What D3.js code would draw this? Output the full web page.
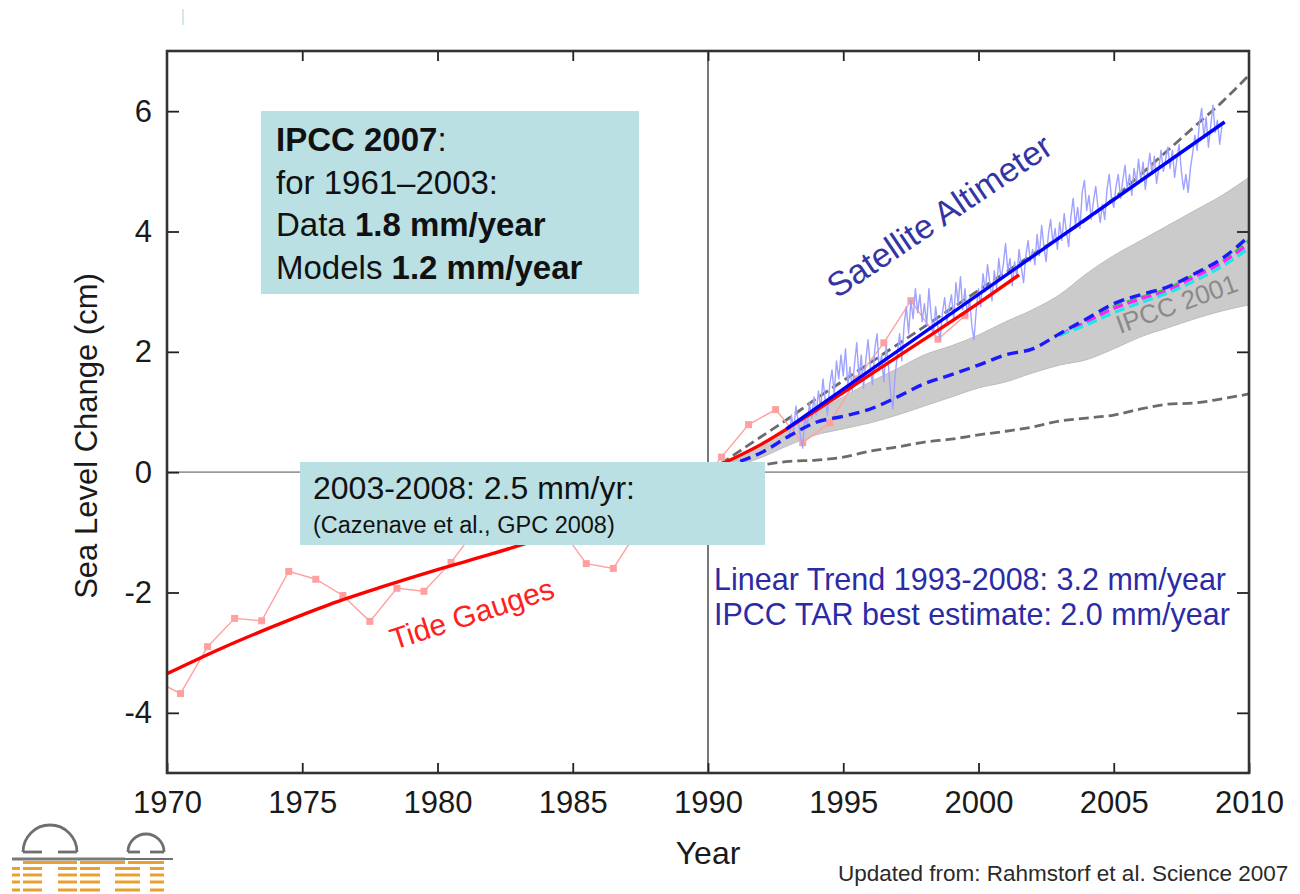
<!DOCTYPE html>
<html><head><meta charset="utf-8">
<script src="https://cdn.jsdelivr.net/npm/d3@7"></script>
<style>
body{margin:0;background:#fff}
svg{display:block}
text{font-family:"Liberation Sans",Arial,Helvetica,sans-serif}
</style>
</head><body>
<svg id="c" width="1300" height="894"></svg>
<script>
// ---------------- data ----------------
const xTickValues = [1970, 1975, 1980, 1985, 1990, 1995, 2000, 2005, 2010];
const yTickValues = [-4, -2, 0, 2, 4, 6];

// annual tide gauge values (cm)
const tideYears = [1969.5,1970.5,1971.5,1972.5,1973.5,1974.5,1975.5,1976.5,1977.5,1978.5,1979.5,
  1980.5,1981.5,1982.5,1983.5,1984.5,1985.5,1986.5,1987.5,1988.5,1989.5,
  1990.5,1991.5,1992.5,1993.5,1994.5,1995.5,1996.5,1997.5,1998.5,1999.5];
const tideValues = [-3.45,-3.68,-2.9,-2.43,-2.47,-1.65,-1.78,-2.05,-2.48,-1.93,-1.98,
  -1.5,-0.9,-1.0,-0.8,-0.9,-1.52,-1.6,-0.9,-0.4,-0.3,
  0.25,0.79,1.04,0.49,0.82,1.55,2.15,2.85,2.21,2.6];

// smooth tide gauge trend (cm)
const tideTrendYears = [1970,1972,1974,1976,1978,1980,1982,1984,1986,1988,1990,1992,1994,1996,1998,2000,2001.5];
const tideTrendValues = [-3.35,-2.93,-2.55,-2.2,-1.9,-1.62,-1.36,-1.08,-0.78,-0.45,0.02,0.47,1.03,1.62,2.21,2.81,3.28];

// satellite altimeter (cm), 12 samples per year from 1993.0
const satStart = 1993, satPerYear = 12;
const satValues = [
  0.55,0.95,0.70,1.10,0.85,0.60,0.40,0.95,0.75,1.15,0.90,1.25,
  0.95,1.35,1.05,1.55,1.20,0.95,1.45,1.70,1.30,1.85,1.55,1.95,
  1.60,2.05,1.45,1.75,1.35,1.80,2.15,1.55,1.95,1.40,1.85,2.20,
  1.75,1.45,2.05,2.30,1.70,1.95,1.50,2.10,1.80,1.30,1.05,1.60,
  1.95,2.30,1.85,2.45,2.75,2.30,2.85,2.55,3.05,2.65,2.95,2.50,
  2.80,2.45,3.05,2.60,2.30,2.75,2.40,2.20,2.65,2.90,2.50,2.75,
  2.95,2.55,3.15,2.80,3.25,2.70,3.05,2.60,2.90,2.45,2.20,2.70,
  3.05,2.75,3.30,3.00,3.45,3.15,2.85,3.35,3.05,3.55,3.20,3.45,
  3.80,3.35,3.55,3.10,3.50,3.25,3.70,3.40,3.15,3.60,3.85,3.50,
  3.70,3.45,3.95,3.60,4.10,3.75,3.50,3.95,4.20,3.80,4.05,3.70,
  4.15,3.85,4.30,4.00,3.75,4.25,4.55,4.10,4.40,4.05,4.65,4.85,
  4.35,4.60,4.20,4.50,4.75,4.40,4.15,4.45,4.20,4.70,4.95,4.55,
  4.40,4.75,4.95,4.55,4.85,5.10,4.70,4.95,4.60,5.05,4.80,5.20,
  4.85,5.15,4.70,5.00,5.30,4.95,5.25,4.80,5.05,5.35,5.00,5.20,
  5.40,5.05,5.35,4.90,5.20,5.45,5.00,4.70,4.95,4.65,5.05,5.30,
  5.60,5.35,5.80,6.05,5.55,5.90,5.40,5.75,6.10,5.65,5.85,5.45,
  5.75];

const satTrendYears = [1992.9, 2009.1];
const satTrendValues = [0.72, 5.82];

// projections 1990-2010 (cm)
const projYears = [1990,1991,1992,1993,1994,1995,1996,1997,1998,1999,2000,2001,2002,2003,2004,2005,2006,2007,2008,2009,2010];
const ipccUpper = [0,0.2,0.45,0.75,1.0,1.25,1.5,1.72,1.95,2.1,2.28,2.5,2.7,2.95,3.3,3.6,3.85,4.1,4.35,4.6,4.9];
const ipccLower = [0,0.1,0.25,0.45,0.62,0.72,0.82,0.95,1.1,1.25,1.4,1.5,1.65,1.78,1.87,2.05,2.25,2.4,2.55,2.68,2.78];
const ipccCentral = [0,0.15,0.33,0.6,0.83,0.93,1.05,1.25,1.47,1.62,1.78,1.95,2.05,2.3,2.55,2.8,2.95,3.08,3.3,3.55,3.92];
const upperDashed = [0,0.3,0.6,0.9,1.22,1.52,1.82,2.12,2.42,2.72,3.02,3.32,3.62,3.9,4.2,4.55,4.95,5.35,5.75,6.15,6.6];
const lowerDashed = [0,0.05,0.12,0.18,0.2,0.25,0.35,0.42,0.5,0.55,0.62,0.68,0.75,0.85,0.9,0.95,1.05,1.13,1.15,1.22,1.3];

// scenario lines 2003-2010 (cm)
const scenYears = [2003,2004,2005,2006,2007,2008,2009,2010];
const scenGreen = [2.28,2.5,2.75,2.9,3.05,3.28,3.5,3.85];
const scenMagenta = [2.28,2.5,2.72,2.88,3.02,3.25,3.48,3.8];
const scenCyan = [2.28,2.45,2.65,2.82,2.98,3.18,3.42,3.72];

// ---------------- chart ----------------
const svg = d3.select('#c');
const X0 = 167, X1 = 1249, Y0 = 51, Y1 = 773;
const x = d3.scaleLinear().domain([1970, 2010]).range([X0, X1]);
const y = d3.scaleLinear().domain([-5, 7]).range([Y1, Y0]);

svg.append('rect').attr('width',1300).attr('height',894).attr('fill','#fff');

svg.append('defs').append('clipPath').attr('id','clip')
  .append('rect').attr('x',X0).attr('y',Y0).attr('width',X1-X0).attr('height',Y1-Y0);

const plot = svg.append('g').attr('clip-path','url(#clip)');

// zero line and 1990 line
plot.append('line').attr('x1',X0).attr('x2',X1).attr('y1',y(0)).attr('y2',y(0))
  .attr('stroke','#9a9a9a').attr('stroke-width',1.6);
plot.append('line').attr('x1',x(1990)).attr('x2',x(1990)).attr('y1',Y0).attr('y2',Y1)
  .attr('stroke','#555').attr('stroke-width',1.6);

const zip = (a,b) => a.map((v,i)=>[v,b[i]]);
const line = d3.line().x(d=>x(d[0])).y(d=>y(d[1]));
const smooth = d3.line().x(d=>x(d[0])).y(d=>y(d[1])).curve(d3.curveMonotoneX);

// IPCC 2001 band
const area = d3.area().x(d=>x(d[0])).y0(d=>y(d[1])).y1(d=>y(d[2])).curve(d3.curveMonotoneX);
plot.append('path').datum(projYears.map((t,i)=>[t,ipccLower[i],ipccUpper[i]]))
  .attr('d',area).attr('fill','#cbcbcb').attr('stroke','#bdbdbd').attr('stroke-width',1);

// gray dashed bounds
plot.append('path').attr('d',smooth(zip(projYears,lowerDashed)))
  .attr('fill','none').attr('stroke','#6b6b6b').attr('stroke-width',2.8).attr('stroke-dasharray','10,5');
plot.append('path').attr('d',smooth(zip(projYears,upperDashed)))
  .attr('fill','none').attr('stroke','#6b6b6b').attr('stroke-width',2.8).attr('stroke-dasharray','10,5');

// tide gauges annual
plot.append('path').attr('d',line(zip(tideYears,tideValues)))
  .attr('fill','none').attr('stroke','#ffa0a0').attr('stroke-width',1.4);
plot.selectAll('rect.tg').data(zip(tideYears,tideValues)).join('rect').attr('class','tg')
  .attr('x',d=>x(d[0])-3.5).attr('y',d=>y(d[1])-3.5).attr('width',7).attr('height',7)
  .attr('fill','#ffa0a0');

// satellite altimeter trace
const satYears = satValues.map((v,i)=>satStart + i/satPerYear);
plot.append('path').attr('d',line(zip(satYears,satValues)))
  .attr('fill','none').attr('stroke','#9fa2ff').attr('stroke-width',1.4).attr('stroke-linejoin','round');

// scenarios
[[scenGreen,'#22dd22'],[scenMagenta,'#ff22ff'],[scenCyan,'#22e5e5']].forEach(([vals,c])=>{
  plot.append('path').attr('d',smooth(zip(scenYears,vals)))
    .attr('fill','none').attr('stroke',c).attr('stroke-width',3.2).attr('stroke-dasharray','10,5');
});
// IPCC TAR central (blue dashed)
plot.append('path').attr('d',smooth(zip(projYears,ipccCentral)))
  .attr('fill','none').attr('stroke','#1a1aff').attr('stroke-width',3.4).attr('stroke-dasharray','11,6');

// trends
plot.append('path').attr('d',smooth(zip(tideTrendYears,tideTrendValues)))
  .attr('fill','none').attr('stroke','#ff0000').attr('stroke-width',3.4);
plot.append('path').attr('d',line(zip(satTrendYears,satTrendValues)))
  .attr('fill','none').attr('stroke','#0000ff').attr('stroke-width',3.4);

// axes (ticks inward)
const axStyle = g => { g.select('.domain').remove(); g.selectAll('.tick line').attr('stroke','#222').attr('stroke-width',1.8); };
svg.append('g').attr('transform',`translate(0,${Y1})`)
  .call(d3.axisBottom(x).tickValues(xTickValues).tickSize(-10).tickPadding(18).tickFormat(d3.format('d')))
  .call(axStyle)
  .selectAll('text').attr('font-size',31).attr('fill','#1a1a1a').attr('font-family','"Liberation Sans",Arial,sans-serif');
svg.append('g').attr('transform',`translate(0,${Y0})`)
  .call(d3.axisTop(x).tickValues(xTickValues.slice(1,-1)).tickSize(-10).tickFormat(''))
  .call(axStyle);
svg.append('g').attr('transform',`translate(${X0},0)`)
  .call(d3.axisLeft(y).tickValues(yTickValues).tickSize(-12).tickPadding(15).tickFormat(d=> d<0 ? '-'+Math.abs(d) : String(d)))
  .call(axStyle)
  .selectAll('text').attr('font-size',31).attr('fill','#1a1a1a').attr('font-family','"Liberation Sans",Arial,sans-serif');
svg.append('g').attr('transform',`translate(${X1},0)`)
  .call(d3.axisRight(y).tickValues(yTickValues.filter(d=>d!==0)).tickSize(-12).tickFormat(''))
  .call(axStyle);

// frame
svg.append('rect').attr('x',X0).attr('y',Y0).attr('width',X1-X0).attr('height',Y1-Y0)
  .attr('fill','none').attr('stroke','#333').attr('stroke-width',2.6);

// axis titles
svg.append('text').attr('x',x(1990)).attr('y',864).attr('text-anchor','middle')
  .attr('font-size',32).attr('fill','#1a1a1a').text('Year');
svg.append('text').attr('transform','translate(97,436) rotate(-90)').attr('text-anchor','middle')
  .attr('font-size',31).attr('fill','#1a1a1a').text('Sea Level Change (cm)');

// series labels
svg.append('text').attr('transform','translate(837,299) rotate(-34)')
  .attr('font-size',34).attr('fill','#3434a4').text('Satellite Altimeter');
svg.append('text').attr('transform','translate(394,650) rotate(-18)')
  .attr('font-size',30).attr('fill','#ff2020').text('Tide Gauges');
svg.append('text').attr('transform','translate(1120,334) rotate(-20)')
  .attr('font-size',26).attr('fill','#8a8a8a').text('IPCC 2001');

// IPCC 2007 box
svg.append('rect').attr('x',261).attr('y',111).attr('width',378).attr('height',183).attr('fill','#bae0e3');
const bx = 276;
const boxLines = [
  [['IPCC 2007',700],[':',400]],
  [['for 1961\u20132003:',400]],
  [['Data ',400],['1.8 mm/year',700]],
  [['Models ',400],['1.2 mm/year',700]]
];
boxLines.forEach((parts,i)=>{
  const t = svg.append('text').attr('x',bx).attr('y',151+i*42.5).attr('font-size',33).attr('fill','#111');
  parts.forEach(p=>t.append('tspan').attr('font-weight',p[1]).text(p[0]));
});

// Cazenave box
svg.append('rect').attr('x',300).attr('y',462).attr('width',465).attr('height',83).attr('fill','#bae0e3');
svg.append('text').attr('x',313).attr('y',499).attr('font-size',32).attr('fill','#111').text('2003-2008: 2.5 mm/yr:');
svg.append('text').attr('x',313).attr('y',533).attr('font-size',23.5).attr('fill','#111').text('(Cazenave et al., GPC 2008)');

// trend text
svg.append('text').attr('x',714).attr('y',590).attr('font-size',30.5).attr('fill','#2b2ba6').text('Linear Trend 1993-2008: 3.2 mm/year');
svg.append('text').attr('x',714).attr('y',625).attr('font-size',30.5).attr('fill','#2b2ba6').text('IPCC TAR best estimate: 2.0 mm/year');

// source
svg.append('text').attr('x',838).attr('y',881).attr('font-size',22.5).attr('fill','#2a2a2a').text('Updated from: Rahmstorf et al. Science 2007');

// small mark top-left
svg.append('line').attr('x1',183).attr('x2',183).attr('y1',9).attr('y2',25).attr('stroke','#d6e6ee').attr('stroke-width',2);

// logo
const logo = svg.append('g');
logo.append('path').attr('d','M23,852 A27,27 0 0 1 77,852').attr('fill','none').attr('stroke','#6f6f6f').attr('stroke-width',2.8);
logo.append('path').attr('d','M128,852 A18,18 0 0 1 164,852').attr('fill','none').attr('stroke','#6f6f6f').attr('stroke-width',2.8);
[[23,42],[58,77],[128,140],[150,164]].forEach(s=>logo.append('line').attr('x1',s[0]).attr('x2',s[1]).attr('y1',852).attr('y2',852).attr('stroke','#6f6f6f').attr('stroke-width',2.8));
logo.append('line').attr('x1',12).attr('x2',125).attr('y1',859).attr('y2',859).attr('stroke','#7a7a7a').attr('stroke-width',3.2);
logo.append('line').attr('x1',125).attr('x2',173).attr('y1',859).attr('y2',859).attr('stroke','#6f6f6f').attr('stroke-width',2);
const orange = '#e9a030';
[[23,77],[80,125],[128,164]].forEach(s=>logo.append('line').attr('x1',s[0]).attr('x2',s[1]).attr('y1',862.5).attr('y2',862.5).attr('stroke',orange).attr('stroke-width',3));
[868.5,875,882,890].forEach(yy=>{
  [[12,20],[23,42],[58,77],[80,100],[115,140],[150,164]].forEach(s=>logo.append('line').attr('x1',s[0]).attr('x2',s[1]).attr('y1',yy).attr('y2',yy).attr('stroke',orange).attr('stroke-width',3));
});
</script>
</body></html>
